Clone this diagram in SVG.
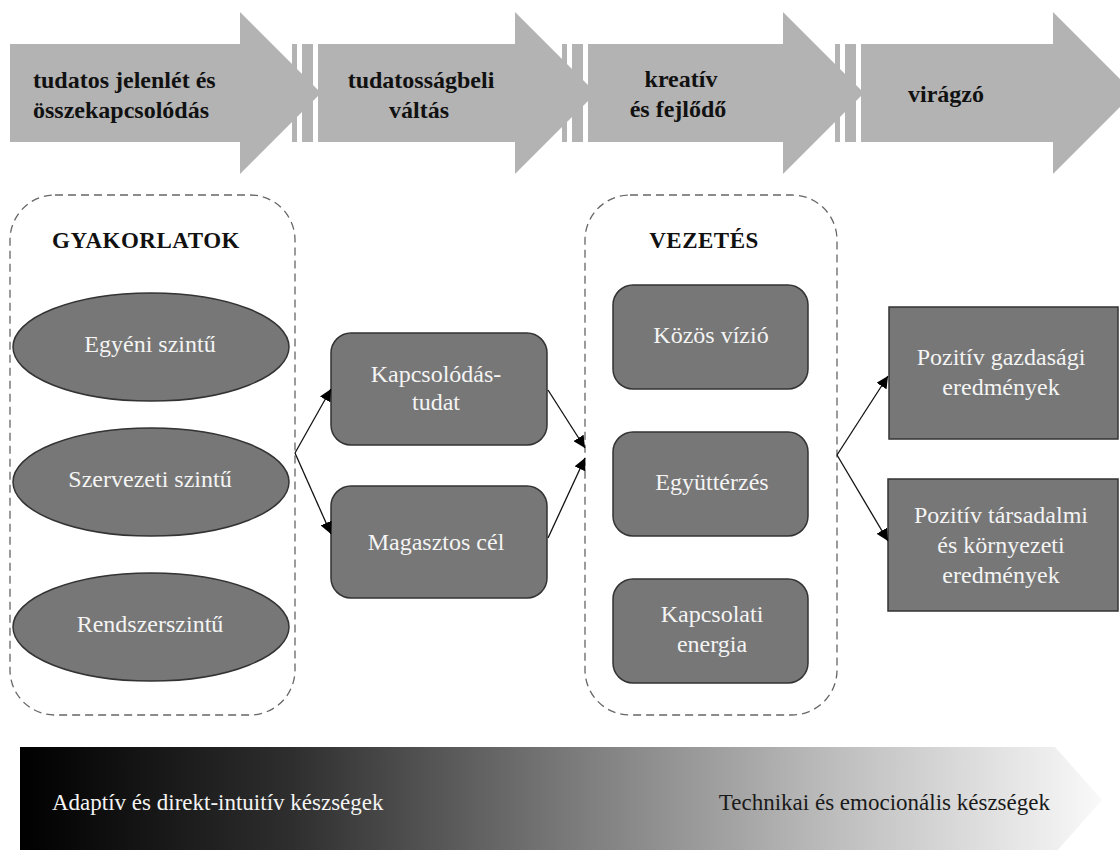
<svg xmlns="http://www.w3.org/2000/svg" width="1120" height="850" viewBox="0 0 1120 850">
  <defs>
    <style>
      .stage { fill: #b3b3b3; }
      .stage-text { font-family: "Liberation Serif", "Times New Roman", serif; font-size: 24px; font-weight: bold; fill: #111; }
      .frame { fill: none; stroke: #666; stroke-width: 1.3; stroke-dasharray: 8 5; }
      .title { font-family: "Liberation Serif", "Times New Roman", serif; font-size: 23px; font-weight: bold; fill: #111; letter-spacing: 0.5px; }
      .node { fill: #777777; stroke: #333; stroke-width: 1.5; }
      .label { font-family: "Liberation Serif", "Times New Roman", serif; font-size: 24px; fill: #f4f4f4; text-anchor: middle; }
      .link { fill: none; stroke: #111; stroke-width: 1.3; marker-end: url(#head); }
      .skill { font-family: "Liberation Serif", "Times New Roman", serif; font-size: 23px; }
    </style>
    <marker id="head" markerUnits="userSpaceOnUse" markerWidth="14" markerHeight="12" refX="12" refY="6" orient="auto">
      <path d="M0,0 L12,6 L0,12 z" fill="#000"/>
    </marker>
    <linearGradient id="skillGrad" x1="20" y1="0" x2="1105" y2="0" gradientUnits="userSpaceOnUse">
      <stop offset="0" stop-color="#000"/>
      <stop offset="0.25" stop-color="#2e2e2e"/>
      <stop offset="0.5" stop-color="#787878"/>
      <stop offset="0.75" stop-color="#bdbdbd"/>
      <stop offset="1" stop-color="#fafafa"/>
    </linearGradient>
  </defs>

  <!-- process stages along the top -->
  <g id="stages">
    <g id="stage-1">
      <polygon class="stage" points="10,44 240,44 240,12 321,93 240,174 240,142 10,142"/>
      <text class="stage-text" x="33" y="88">tudatos jelenlét és</text>
      <text class="stage-text" x="33" y="118">összekapcsolódás</text>
    </g>
    <g id="stage-2">
      <rect class="stage" x="292" y="44" width="5" height="98"/>
      <rect class="stage" x="302" y="44" width="11" height="98"/>
      <polygon class="stage" points="318,44 515,44 515,12 596,93 515,174 515,142 318,142"/>
      <text class="stage-text" x="421" y="88" text-anchor="middle">tudatosságbeli</text>
      <text class="stage-text" x="419" y="118" text-anchor="middle">váltás</text>
    </g>
    <g id="stage-3">
      <rect class="stage" x="562" y="44" width="5" height="98"/>
      <rect class="stage" x="572" y="44" width="11" height="98"/>
      <polygon class="stage" points="588,44 783,44 783,12 864,93 783,174 783,142 588,142"/>
      <text class="stage-text" x="681" y="87" text-anchor="middle">kreatív</text>
      <text class="stage-text" x="678" y="117" text-anchor="middle">és fejlődő</text>
    </g>
    <g id="stage-4">
      <rect class="stage" x="835" y="44" width="5" height="98"/>
      <rect class="stage" x="845" y="44" width="11" height="98"/>
      <polygon class="stage" points="861,44 1053,44 1053,12 1134,93 1053,174 1053,142 861,142"/>
      <text class="stage-text" x="946" y="102" text-anchor="middle">virágzó</text>
    </g>
  </g>

  <!-- dashed groupings -->
  <g id="practices">
    <rect class="frame" x="10" y="195" width="285" height="520" rx="45" ry="45"/>
    <text class="title" x="146" y="248" text-anchor="middle">GYAKORLATOK</text>
  </g>
  <g id="leadership">
    <rect class="frame" x="585" y="195" width="252" height="520" rx="45" ry="45"/>
    <text class="title" x="704" y="248" text-anchor="middle">VEZETÉS</text>
  </g>

  <!-- practice levels -->
  <g id="individual">
    <ellipse class="node" cx="151" cy="347" rx="138" ry="54"/>
    <text class="label" x="150" y="352">Egyéni szintű</text>
  </g>
  <g id="organisational">
    <ellipse class="node" cx="151" cy="482" rx="138" ry="54"/>
    <text class="label" x="150" y="487">Szervezeti szintű</text>
  </g>
  <g id="systemic">
    <ellipse class="node" cx="151" cy="627" rx="138" ry="54"/>
    <text class="label" x="150" y="632">Rendszerszintű</text>
  </g>

  <!-- mindsets -->
  <g id="connectedness">
    <rect class="node" x="331" y="333" width="216" height="112" rx="20" ry="20"/>
    <text class="label" x="436" y="382">Kapcsolódás-</text>
    <text class="label" x="436" y="410">tudat</text>
  </g>
  <g id="purpose">
    <rect class="node" x="331" y="486" width="216" height="112" rx="20" ry="20"/>
    <text class="label" x="436" y="550">Magasztos cél</text>
  </g>

  <!-- leadership qualities -->
  <g id="vision">
    <rect class="node" x="613" y="285" width="195" height="104" rx="20" ry="20"/>
    <text class="label" x="711" y="343">Közös vízió</text>
  </g>
  <g id="compassion">
    <rect class="node" x="613" y="432" width="195" height="104" rx="20" ry="20"/>
    <text class="label" x="712" y="490">Együttérzés</text>
  </g>
  <g id="energy">
    <rect class="node" x="613" y="579" width="195" height="104" rx="20" ry="20"/>
    <text class="label" x="712" y="622">Kapcsolati</text>
    <text class="label" x="712" y="652">energia</text>
  </g>

  <!-- outcomes -->
  <g id="economic">
    <rect class="node" x="889" y="307" width="229" height="132"/>
    <text class="label" x="1001" y="365">Pozitív gazdasági</text>
    <text class="label" x="1001" y="395">eredmények</text>
  </g>
  <g id="social">
    <rect class="node" x="888" y="479" width="230" height="132"/>
    <text class="label" x="1001" y="523">Pozitív társadalmi</text>
    <text class="label" x="1001" y="553">és környezeti</text>
    <text class="label" x="1001" y="583">eredmények</text>
  </g>

  <!-- connectors -->
  <g id="connectors">
    <path class="link" d="M295,453 L331,389"/>
    <path class="link" d="M295,453 L331,534"/>
    <path class="link" d="M548,390 L585,448"/>
    <path class="link" d="M548,538 L585,458"/>
    <path class="link" d="M837,455 L888,376"/>
    <path class="link" d="M837,455 L888,541"/>
  </g>

  <!-- skills gradient band -->
  <g id="skills">
    <polygon points="20,747 1055,747 1102,800 1055,853 20,853" fill="url(#skillGrad)"/>
    <text class="skill" x="52" y="810" fill="#f4f4f4">Adaptív és direkt-intuitív készségek</text>
    <text class="skill" x="1050" y="810" fill="#1a1a1a" text-anchor="end">Technikai és emocionális készségek</text>
  </g>
</svg>
